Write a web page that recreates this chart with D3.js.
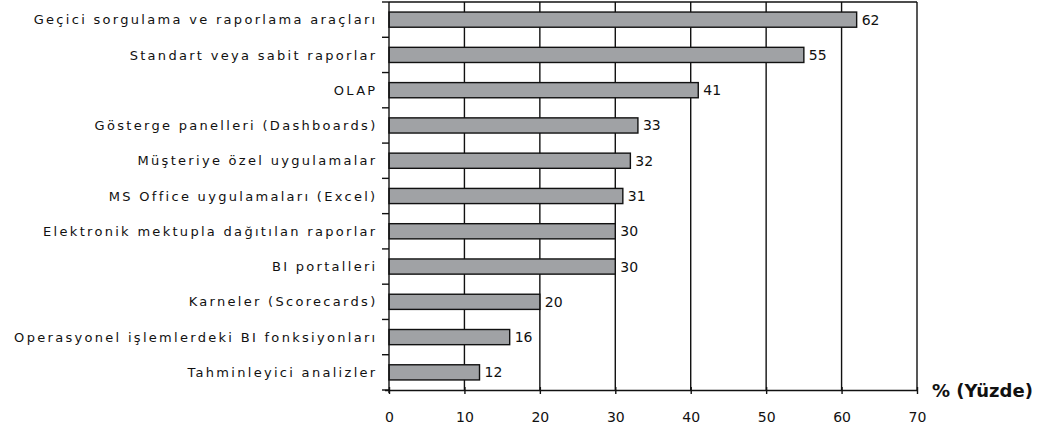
<!DOCTYPE html>
<html>
<head>
<meta charset="utf-8">
<script src="https://cdn.jsdelivr.net/npm/d3@7"></script>
<style>
  html, body { margin: 0; padding: 0; background: #ffffff; }
  svg { display: block; }
</style>
</head>
<body>
<svg id="chart" width="1042" height="432"></svg>
<script>
// Kategoriler (yukarıdan aşağıya) ve yüzde değerleri
const categories = [
  "Geçici sorgulama ve raporlama araçları",
  "Standart veya sabit raporlar",
  "OLAP",
  "Gösterge panelleri (Dashboards)",
  "Müşteriye özel uygulamalar",
  "MS Office uygulamaları (Excel)",
  "Elektronik mektupla dağıtılan raporlar",
  "BI portalleri",
  "Karneler (Scorecards)",
  "Operasyonel işlemlerdeki BI fonksiyonları",
  "Tahminleyici analizler"
];
const values = [62, 55, 41, 33, 32, 31, 30, 30, 20, 16, 12];
const xTicks = [0, 10, 20, 30, 40, 50, 60, 70];
const axisTitle = "% (Yüzde)";

const svg = d3.select("#chart");
const plotLeft = 389, plotRight = 917, plotTop = 2, plotBottom = 390;

const x = d3.scaleLinear().domain([0, 70]).range([plotLeft, plotRight]);
const y = d3.scaleBand().domain(categories).range([plotTop, plotBottom])
  .paddingInner(0.57).paddingOuter(0.285);

const ink = "#111111";
const font = "DejaVu Sans, Verdana, sans-serif";

// Dikey ızgara çizgileri
svg.append("g").selectAll("line")
  .data(xTicks.filter(d => d > 0))
  .join("line")
  .attr("x1", d => x(d)).attr("x2", d => x(d))
  .attr("y1", plotTop).attr("y2", plotBottom)
  .attr("stroke", ink).attr("stroke-width", 1.4);

// Üst çerçeve çizgisi
svg.append("line")
  .attr("x1", plotLeft).attr("x2", plotRight)
  .attr("y1", plotTop).attr("y2", plotTop)
  .attr("stroke", ink).attr("stroke-width", 1.4);

// Çubuklar
svg.append("g").selectAll("rect")
  .data(values)
  .join("rect")
  .attr("x", x(0))
  .attr("y", (d, i) => y(categories[i]))
  .attr("width", d => x(d) - x(0))
  .attr("height", y.bandwidth())
  .attr("fill", "#a0a2a5")
  .attr("stroke", ink).attr("stroke-width", 1.4);

// Değer etiketleri
svg.append("g").selectAll("text")
  .data(values)
  .join("text")
  .attr("x", d => x(d) + 5)
  .attr("y", (d, i) => y(categories[i]) + y.bandwidth() / 2)
  .attr("dy", "0.36em")
  .attr("font-family", font)
  .attr("font-size", 14)
  .attr("fill", ink)
  .text(d => d);

// Y ekseni: kategori sınırlarında tik işaretleri
const yAxis = svg.append("g");
yAxis.append("line")
  .attr("x1", plotLeft).attr("x2", plotLeft)
  .attr("y1", plotTop).attr("y2", plotBottom + 3)
  .attr("stroke", ink).attr("stroke-width", 1.4);
const bounds = d3.range(categories.length + 1).map(i => plotTop + i * y.step());
yAxis.selectAll("line.tick")
  .data(bounds)
  .join("line")
  .attr("class", "tick")
  .attr("x1", plotLeft - 7).attr("x2", plotLeft)
  .attr("y1", d => d).attr("y2", d => d)
  .attr("stroke", ink).attr("stroke-width", 1.4);
yAxis.selectAll("text")
  .data(categories)
  .join("text")
  .attr("x", plotLeft - 11.5)
  .attr("y", d => y(d) + y.bandwidth() / 2)
  .attr("dy", "0.36em")
  .attr("text-anchor", "end")
  .attr("font-family", font)
  .attr("font-size", 13)
  .attr("letter-spacing", 2.3)
  .attr("fill", ink)
  .text(d => d);

// X ekseni
const xAxis = d3.axisBottom(x).tickValues(xTicks).tickSize(4).tickPadding(18)
  .tickFormat(d3.format("d"));
const gx = svg.append("g").attr("transform", `translate(0,${plotBottom})`).call(xAxis);
gx.select(".domain").attr("stroke", ink).attr("stroke-width", 1.4)
  .attr("d", `M${plotLeft - 4},0.5H${plotRight}`);
gx.selectAll(".tick line").attr("stroke", ink).attr("stroke-width", 1.4)
  .attr("y1", -3);
gx.selectAll(".tick text")
  .attr("font-family", font)
  .attr("font-size", 14)
  .attr("fill", ink);

// Eksen başlığı
svg.append("text")
  .attr("x", 932).attr("y", plotBottom + 1)
  .attr("dy", "0.36em")
  .attr("font-family", font)
  .attr("font-size", 18)
  .attr("font-weight", "bold")
  .attr("fill", ink)
  .text(axisTitle);
</script>
</body>
</html>
